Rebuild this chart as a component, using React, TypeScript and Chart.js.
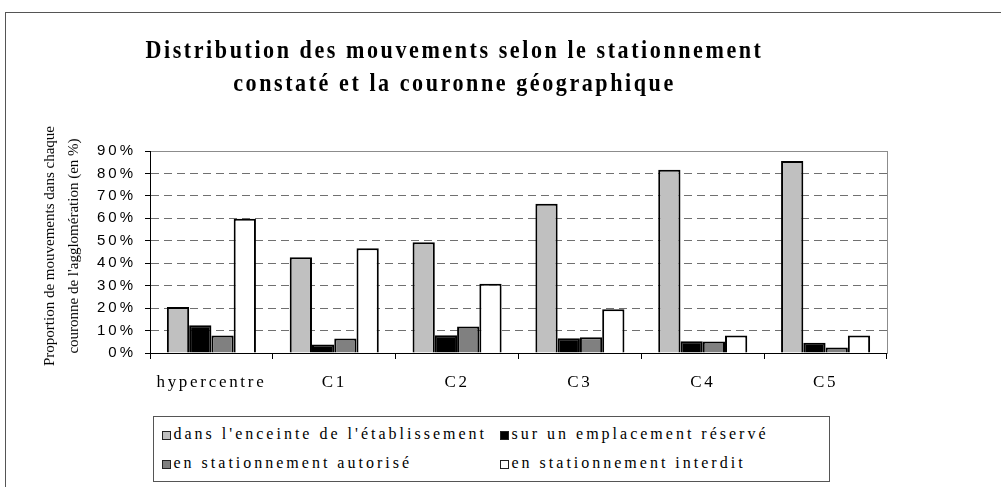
import React, { useEffect, useRef } from 'react';
import { Chart, registerables } from 'chart.js';

Chart.register(...registerables);

// ---- data ----
const categories = ['hypercentre', 'C1', 'C2', 'C3', 'C4', 'C5'];
const seriesLabels = [
  "dans l'enceinte de l'établissement",
  'sur un emplacement réservé',
  'en stationnement autorisé',
  'en stationnement interdit',
];
const enceinte = [20.5, 42.7, 49.3, 66.5, 81.7, 85.6];
const reserve = [12.4, 3.8, 7.9, 6.6, 5.2, 4.6];
const autorise = [7.8, 6.5, 11.8, 7.0, 5.1, 2.4];
const interdit = [59.8, 46.7, 30.8, 19.5, 7.8, 7.8];
const seriesValues = [enceinte, reserve, autorise, interdit];
const seriesColors = ['#c0c0c0', '#000000', '#808080', '#ffffff'];
const yMin = 0;
const yMax = 90;
const yStep = 10;
const titleLines = [
  'Distribution des mouvements selon le stationnement',
  'constaté et la couronne géographique',
];
const yTitleLines = ['Proportion de mouvements dans chaque', "couronne de l'agglomération (en %)"];

const spacingPlugin = {
  id: 'letterSpacingWrap',
  beforeDraw(chart: any) {
    const wrap = (obj: any, key: string, spacing: string, sx = 1) => {
      if (!obj || obj['__wrapped_' + key]) return;
      const orig = obj[key];
      obj[key] = function (...args: any[]) {
        const ctx = chart.ctx;
        ctx.save();
        if (sx !== 1) {
          const cx = (this.left + this.right) / 2;
          ctx.translate(cx, 0);
          ctx.scale(sx, 1);
          ctx.translate(-cx, 0);
        }
        ctx.letterSpacing = spacing;
        const r = orig.apply(this, args);
        ctx.restore();
        return r;
      };
      obj['__wrapped_' + key] = true;
    };
    wrap(chart.scales.x, 'drawLabels', '2.7px');
    wrap(chart.scales.y, 'drawLabels', '3px');
    wrap(chart.titleBlock, 'draw', '3px', 0.85);
  },
};

export default function App() {
  const ref = useRef<HTMLCanvasElement>(null);

  useEffect(() => {
    const canvas = ref.current!;
    const chart = new Chart(canvas, {
      type: 'bar',
      data: {
        labels: categories,
        datasets: seriesLabels.map((label, i) => ({
          label,
          data: seriesValues[i],
          backgroundColor: seriesColors[i],
          borderColor: '#000000',
          borderWidth: 2,
          xAxisID: 'x',
          yAxisID: 'y',
          categoryPercentage: 0.725,
          barPercentage: 1,
        })),
      },
      options: {
        responsive: false,
        animation: false,
        devicePixelRatio: 1,
        layout: { padding: { left: 22, right: 114, top: 12, bottom: 94 } },
        plugins: {
          legend: { display: false },
          tooltip: { enabled: false },
          title: {
            display: true,
            text: titleLines,
            color: '#000000',
            font: { family: 'Liberation Serif', size: 26, weight: 'bold', lineHeight: 33 / 26 },
            padding: { top: 23, bottom: 50 },
          },
        },
        scales: {
          x: {
            type: 'category',
            position: 'bottom',
            offset: true,
            grid: {
              offset: true,
              drawOnChartArea: false,
              drawTicks: true,
              tickLength: 6,
              color: '#000000',
              tickColor: '#000000',
            },
            border: { display: true, color: '#000000', width: 1 },
            ticks: {
              color: '#000000',
              font: { family: 'Liberation Serif', size: 17 },
              padding: 13,
              maxRotation: 0,
              autoSkip: false,
            },
            afterFit: (s: any) => {
              s.height = 40;
            },
          },
          x2: {
            type: 'category',
            position: 'top',
            labels: categories,
            grid: { display: false },
            ticks: { display: false },
            border: { display: true, color: '#8c8c8c', width: 1 },
            afterFit: (s: any) => {
              s.height = 0;
            },
          },
          y: {
            type: 'linear',
            position: 'left',
            min: yMin,
            max: yMax,
            grid: {
              color: (c: any) =>
                c.tick && (c.tick.value === yMin || c.tick.value === yMax) ? 'rgba(0,0,0,0)' : '#707070',
              tickColor: '#000000',
              tickLength: 5,
              lineWidth: 1,
            },
            border: { display: true, color: '#000000', width: 1, dash: [8, 5] },
            ticks: {
              stepSize: yStep,
              color: '#000000',
              font: { family: 'Liberation Sans', size: 15 },
              padding: 9,
              callback: (v: any) => v + '%',
            },
            afterFit: (s: any) => {
              s.width = 128;
            },
          },
          y2: {
            type: 'linear',
            position: 'right',
            min: yMin,
            max: yMax,
            grid: { display: false },
            ticks: { display: false },
            border: { display: true, color: '#8c8c8c', width: 1 },
            afterFit: (s: any) => {
              s.width = 0;
            },
          },
        },
      },
      plugins: [spacingPlugin],
    } as any);
    return () => chart.destroy();
  }, []);

  const legendItems = seriesLabels.map((label, i) => {
    const col = i % 2;
    const row = Math.floor(i / 2);
    const left = col === 0 ? 8 : 346;
    const markerTop = row === 0 ? 14 : 42.5;
    const textTop = row === 0 ? 6.6 : 35.6;
    return (
      <React.Fragment key={label}>
        <span
          style={{
            position: 'absolute',
            left,
            top: markerTop,
            width: 9,
            height: 9,
            boxSizing: 'border-box',
            border: '1.5px solid #222',
            background: seriesColors[i],
          }}
        />
        <span
          style={{
            position: 'absolute',
            left: left + 11.5,
            top: textTop,
            lineHeight: '20px',
            whiteSpace: 'nowrap',
          }}
        >
          {label}
        </span>
      </React.Fragment>
    );
  });

  return (
    <div
      style={{
        position: 'absolute',
        left: 0,
        top: 0,
        width: 1001,
        height: 487,
        overflow: 'hidden',
        background: '#ffffff',
      }}
    >
      <div
        style={{
          position: 'absolute',
          left: 5,
          top: 12,
          width: 1100,
          height: 600,
          border: '1px solid #555555',
        }}
      />
      <canvas
        ref={ref}
        width={1001}
        height={487}
        style={{ position: 'absolute', left: 0, top: 0, width: 1001, height: 487, display: 'block' }}
      />
      <div
        style={{
          position: 'absolute',
          left: 61,
          top: 246,
          transform: 'translate(-50%, -50%) rotate(-90deg)',
          whiteSpace: 'nowrap',
          textAlign: 'center',
          fontFamily: 'Liberation Serif',
          fontSize: 15,
          lineHeight: '24px',
          color: '#000',
        }}
      >
        <div>{yTitleLines[0]}</div>
        <div>{yTitleLines[1]}</div>
      </div>
      <div
        style={{
          position: 'absolute',
          left: 153,
          top: 416,
          width: 677,
          height: 66,
          boxSizing: 'border-box',
          border: '1px solid #555555',
          background: '#ffffff',
          fontFamily: 'Liberation Serif',
          fontSize: 16,
          letterSpacing: '3px',
          color: '#000',
        }}
      >
        {legendItems}
      </div>
    </div>
  );
}
